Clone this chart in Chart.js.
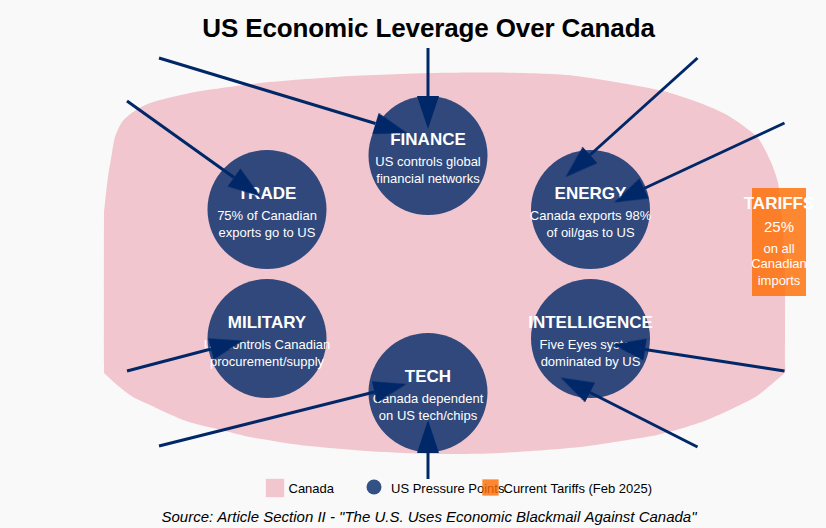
<!DOCTYPE html>
<html><head><meta charset="utf-8">
<style>html,body{margin:0;padding:0;background:#f9f9f9}canvas{display:block}</style>
<script src="https://cdn.jsdelivr.net/npm/chart.js@4"></script>
</head><body>
<canvas id="c" width="826" height="528"></canvas>
<script>
const titleText = 'US Economic Leverage Over Canada';
const sourceText = 'Source: Article Section II - "The U.S. Uses Economic Blackmail Against Canada"';
const legendLabels = ['Canada', 'US Pressure Points', 'Current Tariffs (Feb 2025)'];
const canadaX = [104,104,104,105,108,112,115,122,133,150,190,225,260,300,350,400,433,470,500,567,633,667,700,727,757,770,778,782,784,785,785,785,773,757,740,723,707,683,657,640,580,500,430,367,300,250,233,217,200,183,167,150,133,117,104];
const canadaY = [373,366,213,203,177,153,137,122,112,103,93,87.5,83,79.5,76,74,73,72.5,72.5,75,85,92,103,115,137,160,183,220,250,275,365,372,383,396,405,413,420,428,435,438,447,453,454,451,445,437,433,429,425,420,413,405,397,385,373];
const pressureNames = ['FINANCE','TRADE','ENERGY','MILITARY','INTELLIGENCE','TECH'];
const pressureX = [428,267,590.5,267,590.5,428];
const pressureY = [155.5,209.5,209.5,338.5,338.5,392.5];
const pressureLine1 = ['US controls global','75% of Canadian','Canada exports 98%','US controls Canadian','Five Eyes system','Canada dependent'];
const pressureLine2 = ['financial networks','exports go to US','of oil/gas to US','procurement/supply','dominated by US','on US tech/chips'];
const arrowFromX = [428,159,127,697.5,784.5,127,159,784.5,697.5,428];
const arrowFromY = [48,58,101,58,123,371,446,371,447,479];
const arrowToX = [428,375.5,234,590,644,211,374.5,645,590,428];
const arrowToY = [96,123.5,177.5,155,188.5,349,392,349.5,392.5,453];
const tariffX = [752,806,806,752];
const tariffY = [188,188,296,296];
const tariffLines = ['TARIFFS','25%','on all','Canadian','imports'];
const swatchX = [275,374,490.5];
const swatchY = [488,487,487.5];

const cv = document.getElementById('c');
const ctx0 = cv.getContext('2d',{alpha:false});
const NAVY='#002868';
const head = document.createElement('canvas');
head.width=head.height=68;
(function(){const g=head.getContext('2d');g.fillStyle=NAVY;g.beginPath();g.moveTo(34,1);g.lineTo(45,34);g.lineTo(23,34);g.closePath();g.fill();})();

const pts=(xs,ys)=>xs.map((x,i)=>({x,y:ys[i]}));
const datasets=[
 {label:'Canada',data:pts(canadaX,canadaY),showLine:true,fill:'shape',tension:0.25,borderWidth:0,borderColor:'transparent',backgroundColor:'rgb(241,198,206)',pointRadius:0,order:10},
 {label:'US Pressure Points',data:pts(pressureX,pressureY),pointRadius:59.5,pointHoverRadius:59.5,backgroundColor:'rgba(0,40,104,0.8)',borderWidth:0,pointBorderWidth:0,order:9},
 {label:'Current Tariffs (Feb 2025)',data:pts(tariffX,tariffY),showLine:true,fill:'shape',tension:0,borderWidth:0,borderColor:'transparent',backgroundColor:'rgba(255,107,0,0.8)',pointRadius:0,order:8},
 {label:'swatchCanada',data:[{x:swatchX[0],y:swatchY[0]}],pointStyle:'rect',pointRadius:13,backgroundColor:'rgb(241,198,206)',pointBorderWidth:0,order:5},
 {label:'swatchPressure',data:[{x:swatchX[1],y:swatchY[1]}],pointRadius:7.5,backgroundColor:'rgba(0,40,104,0.8)',pointBorderWidth:0,order:5},
 {label:'swatchTariff',data:[{x:swatchX[2],y:swatchY[2]}],pointStyle:'rect',pointRadius:11.5,backgroundColor:'rgba(255,107,0,0.8)',pointBorderWidth:0,order:5}
];
arrowFromX.forEach((fx,i)=>{
 const tx=arrowToX[i],ty=arrowToY[i],fy=arrowFromY[i];
 const deg=Math.atan2(tx-fx,fy-ty)*180/Math.PI;
 datasets.push({label:'arrow'+i,data:[{x:fx,y:fy},{x:tx,y:ty}],showLine:true,tension:0,borderColor:NAVY,borderWidth:3,fill:false,
  pointStyle:head,pointRadius:[0,3],pointHoverRadius:[0,3],pointRotation:[0,deg],order:1});
});
const F='"Liberation Sans", Arial, sans-serif';
function txt(c,s,x,y,font,color,align){c.font=font+' '+F;c.fillStyle=color;c.textAlign=align||'center';c.textBaseline='alphabetic';c.fillText(s,x,y);}
const painter={id:'painter',
 beforeDraw(ch){const c=ch.ctx;c.save();c.fillStyle='#f9f9f9';c.fillRect(0,0,ch.width,ch.height);c.restore();},
 afterDatasetDraw(ch,args){
  const c=ch.ctx;const sx=ch.scales.x,sy=ch.scales.y;c.save();
  if(args.index===1){
   pressureNames.forEach((n,i)=>{const x=sx.getPixelForValue(pressureX[i]),y=sy.getPixelForValue(pressureY[i]);
    txt(c,n,x,y-10.5,'bold 17px','#fff');
    txt(c,pressureLine1[i],x,y+10.5,'13px','#fff');
    txt(c,pressureLine2[i],x,y+27,'13px','#fff');});
   c.letterSpacing='-0.13px';
   txt(c,titleText,428.5,37,'bold 26px','#000');
   c.letterSpacing='0px';
   txt(c,sourceText,429,522,'italic 15px','#000');
  }
  if(args.index===2){
   const tx=sx.getPixelForValue((tariffX[0]+tariffX[1])/2);
   txt(c,tariffLines[0],tx,209,'bold 17px','#fff');
   txt(c,tariffLines[1],tx,232,'15px','#fff');
   txt(c,tariffLines[2],tx,253,'13px','#fff');
   txt(c,tariffLines[3],tx,268,'13px','#fff');
   txt(c,tariffLines[4],tx,285,'13px','#fff');
   txt(c,legendLabels[0],288.5,493,'13px','#000','left');
   txt(c,legendLabels[1],391,493,'13px','#000','left');
   txt(c,legendLabels[2],503.5,493,'13px','#000','left');
  }
  c.restore();
 }};
new Chart(ctx0,{type:'scatter',data:{datasets},plugins:[painter],options:{
 responsive:false,animation:false,events:[],layout:{padding:0,autoPadding:false},
 plugins:{legend:{display:false},tooltip:{enabled:false},title:{display:false}},
 scales:{x:{type:'linear',min:0,max:826,display:false},y:{type:'linear',min:0,max:528,reverse:true,display:false}}
}});
</script>
</body></html>
